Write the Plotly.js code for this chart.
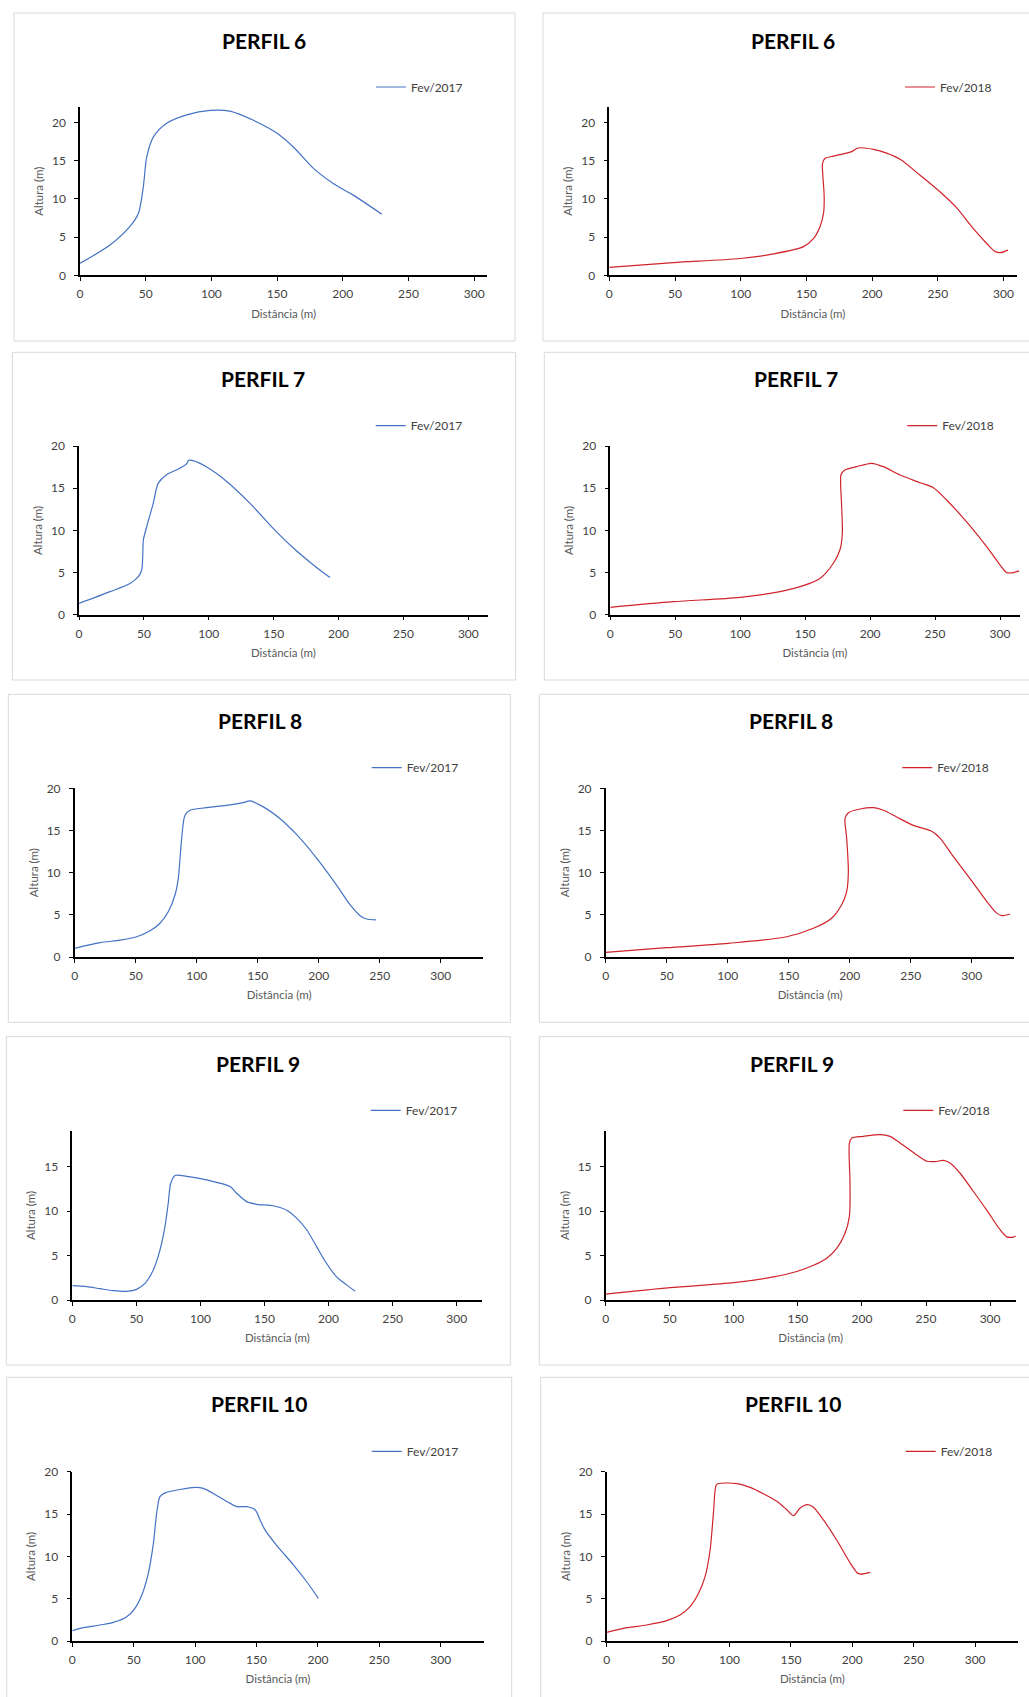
<!DOCTYPE html>
<html><head><meta charset="utf-8">
<script src="https://cdn.plot.ly/plotly-3.0.1.min.js"></script>
<style>html,body{margin:0;padding:0;background:#fff;}#chart{width:1029px;height:1697px;}</style>
</head><body><div id="chart"></div>
<script>
// ---- DATA ----
const titles = ["PERFIL 6","PERFIL 6","PERFIL 7","PERFIL 7","PERFIL 8","PERFIL 8","PERFIL 9","PERFIL 9","PERFIL 10","PERFIL 10"];
const seriesNames = ["Fev/2017","Fev/2018","Fev/2017","Fev/2018","Fev/2017","Fev/2018","Fev/2017","Fev/2018","Fev/2017","Fev/2018"];
const xAxisTitle = "Distância (m)";
const yAxisTitle = "Altura (m)";
const xMax = [310,310,315,315,335,335,320,320,335,335];
const yMax = [22,22,20,20,20,20,19,19,20,20];

const p6_2017_x = [0,22.8,38,44.4,48.2,50.8,55.8,66,81.2,99,114,132,150,162.4,177.7,193,208,229.7];
const p6_2017_y = [1.57,3.96,6.4,8.1,11.6,15.5,18.1,19.9,21,21.6,21.5,20.3,18.6,16.8,14,12,10.5,8.0];
const p6_2018_x = [0,48.7,99.5,124.9,147.7,155.3,160.4,163,163.5,162.4,162.2,164,170.6,184.5,188.3,190.9,201,211,221.3,236.5,251.8,264.5,277,287,293.7,297.5,303.4];
const p6_2018_y = [1.05,1.66,2.2,2.8,3.75,4.8,6.4,8.1,10.3,13.3,14.6,15.3,15.6,16.2,16.6,16.7,16.5,16.0,15.2,13.1,10.9,8.8,6.1,4.2,3.1,2.96,3.3];

const p7_2017_x = [0,23.9,39.3,45.7,48.3,49.1,49.6,52.1,57.2,61.1,67.5,77.8,83,84.5,88,98.4,113.8,131.8,149.8,165.2,180.6,193.4];
const p7_2017_y = [1.34,2.73,3.7,4.5,5.3,6.9,8.85,10.4,13.2,15.6,16.6,17.35,17.9,18.3,18.26,17.5,15.8,13.2,10.2,7.9,5.9,4.4];
const p7_2018_x = [0,48.5,99.8,130.6,148.6,161.4,171.7,176.8,178.6,178.1,177.3,177.6,180.6,189.6,201.2,210.2,223,238.4,248.7,258.9,274.3,289.7,300,305,310.2,314.6];
const p7_2018_y = [0.87,1.54,2.06,2.73,3.44,4.3,6.1,7.7,9.6,12.8,15.6,16.6,17.15,17.55,17.95,17.55,16.56,15.65,15.06,13.6,11.0,8.06,5.9,5.0,4.98,5.2];

const p8_2017_x = [0,20.8,37.2,50.8,61.7,69.9,76.8,82.2,84.9,87.7,90.4,94.5,108.2,130,138.3,143.7,154.6,168.3,182,198.4,214.8,225.7,233.9,239.3,247];
const p8_2017_y = [1.03,1.7,2.0,2.4,3.1,4.0,5.4,7.35,9.3,14.1,16.8,17.4,17.7,18.1,18.3,18.5,17.8,16.4,14.5,11.7,8.5,6.2,4.9,4.5,4.4];
const p8_2018_x = [0,50,100.5,148.4,170.2,185.2,193.4,197.5,198.9,197.5,196.2,198.9,208.5,219.4,227.6,238.5,252.2,259,267.2,274,285,298.6,312.3,320.5,324.6,331.4];
const p8_2018_y = [0.55,1.1,1.62,2.4,3.4,4.6,6.2,7.75,10.1,14.1,16.4,17.1,17.55,17.7,17.4,16.6,15.6,15.3,14.9,14.1,11.9,9.3,6.6,5.2,4.9,5.1];

const p9_2017_x = [0,11.2,21.6,32,42.4,50.2,56.7,63.2,68.4,72.3,74.9,76.8,80.2,89.3,104.9,123.1,128.3,136.1,143.9,156.9,167.3,175.1,182.9,190.7,198.5,206.3,214.1,220.7];
const p9_2017_y = [1.61,1.5,1.27,1.05,0.97,1.2,1.87,3.37,5.6,8.25,10.9,13.1,13.99,13.9,13.5,12.75,12,11.06,10.76,10.6,10.1,9.2,7.9,6.0,4.1,2.6,1.7,1.0];
const p9_2018_x = [0,50.2,100,131,149.1,162.1,172.5,180.3,186.8,190.2,190.7,190.2,192,201.1,214.1,221.9,232.3,242.8,250.6,257.1,263.6,268.8,276.6,287,297.4,307.8,313,316.9,320.3];
const p9_2018_y = [0.67,1.4,1.95,2.6,3.2,3.9,4.7,5.8,7.5,9.4,13.1,17.6,18.2,18.4,18.6,18.4,17.4,16.3,15.6,15.56,15.7,15.4,14.25,12.2,10.1,7.9,7.1,7.05,7.2];

const p10_2017_x = [0,9,22.5,33.4,44.3,51,56.5,61.9,66,68.7,71.4,75.5,87.7,99.9,106.7,117.6,128.5,133.9,142,148.8,152.9,157,166.4,180,190.9,200.4];
const p10_2017_y = [1.22,1.57,1.89,2.2,2.87,3.86,5.4,8.0,11.5,15.1,17.05,17.5,17.9,18.15,18.03,17.2,16.26,15.87,15.87,15.5,14.3,13.1,11.3,9.0,7.0,5.04];
const p10_2018_x = [0,16.3,32.6,48.9,59.7,67.9,74.7,80.1,84.2,86.9,89.1,91,105.9,116.8,127.6,138.5,146.7,152.1,157.5,163.5,168.3,176.5,187.4,198.3,203.7,206.4,214.6];
const p10_2018_y = [1.02,1.57,1.89,2.4,3.07,4.06,5.6,7.6,10.75,15.1,18.4,18.6,18.6,18.15,17.4,16.5,15.5,14.8,15.7,16.1,15.8,14.3,11.9,9.2,8.1,7.9,8.1];

const seriesX = [p6_2017_x,p6_2018_x,p7_2017_x,p7_2018_x,p8_2017_x,p8_2018_x,p9_2017_x,p9_2018_x,p10_2017_x,p10_2018_x];
const seriesY = [p6_2017_y,p6_2018_y,p7_2017_y,p7_2018_y,p8_2017_y,p8_2018_y,p9_2017_y,p9_2018_y,p10_2017_y,p10_2018_y];

// ---- LAYOUT GEOMETRY (pixels on the 1029x1697 page) ----
const W = 1029, H = 1697;
const geom = [
  {plot:[80,487.3,275.3,107.3],   box:[14,515,13,341],        title:[264,40],      leg:[376,87]},
  {plot:[609.3,1016.7,275.3,107.3],box:[543,1040,13,341],     title:[793.3,40],    leg:[905,87]},
  {plot:[79,487.8,614.7,446],     box:[12.3,515.7,352.3,680], title:[263.3,378],   leg:[375.7,425.7]},
  {plot:[610.3,1019.5,614.7,446], box:[544.3,1040,352.3,680], title:[796,378],     leg:[907.3,425.7]},
  {plot:[74.7,483.4,957,788.3],   box:[8.3,510.3,694.3,1022.3], title:[260,720],   leg:[371.7,767.7]},
  {plot:[605.7,1014.4,957,788.3], box:[539.3,1040,694.3,1022.3], title:[790.7,720], leg:[902.3,767.7]},
  {plot:[72.3,482.3,1300,1131],   box:[6.3,510.3,1036.7,1365], title:[258.3,1063.3], leg:[370.7,1110.3]},
  {plot:[605.7,1015.7,1300,1131], box:[539.3,1040,1036.7,1365], title:[791.7,1063.3], leg:[903.3,1110.3]},
  {plot:[72.3,483.7,1641,1471.7], box:[6.7,511.7,1377.3,1710], title:[259,1403.3], leg:[371.7,1451.3]},
  {plot:[606.7,1018.1,1641,1471.7], box:[540.7,1040,1377.3,1710], title:[793.3,1403.3], leg:[905.7,1451.3]}
];
const px = v => v / W;
const py = v => 1 - v / H;

const FONT = "Lato, 'Open Sans', sans-serif";
const colors = ["#4472C4","#D0232A"];

const traces = [];
const layout = {
  width: W, height: H,
  margin: {l:0, r:0, t:0, b:0},
  paper_bgcolor: "#ffffff", plot_bgcolor: "rgba(0,0,0,0)",
  font: {family: FONT, color: "#404040"},
  shapes: [], annotations: [],
  showlegend: true
};

for (let i = 0; i < 10; i++) {
  const g = geom[i];
  const k = i === 0 ? "" : String(i + 1);
  const legKey = "legend" + k;
  traces.push({
    type: "scatter", mode: "lines",
    x: seriesX[i], y: seriesY[i],
    name: seriesNames[i],
    xaxis: "x" + k, yaxis: "y" + k,
    legend: legKey,
    line: {color: colors[i % 2], width: 1.2, shape: "spline", smoothing: 0.8},
    hoverinfo: "x+y"
  });
  const axCommon = {
    showline: true, linecolor: "#000000", linewidth: 1.5,
    ticks: "outside", ticklen: 4, tickwidth: 1.3, tickcolor: "#000000",
    showgrid: false, zeroline: false,
    tickfont: {family: FONT, size: 12, color: "#3F3F3F"},
    fixedrange: true
  };
  layout["xaxis" + k] = Object.assign({}, axCommon, {
    domain: [px(g.plot[0]), px(g.plot[1])],
    anchor: "y" + k,
    range: [0, xMax[i]], tickmode: "linear", tick0: 0, dtick: 50,
    ticklabelstandoff: 3,
    title: {text: xAxisTitle, font: {family: FONT, size: 11.5, color: "#595959"}, standoff: 9}
  });
  layout["yaxis" + k] = Object.assign({}, axCommon, {
    domain: [py(g.plot[2]), py(g.plot[3])],
    anchor: "x" + k,
    range: [0, yMax[i]], tickmode: "linear", tick0: 0, dtick: 5,
    ticklabelstandoff: 6,
    title: {text: yAxisTitle, font: {family: FONT, size: 11.5, color: "#595959"}, standoff: 6}
  });
  layout[legKey] = {
    x: px(g.leg[0] - 5), y: py(g.leg[1]),
    xanchor: "left", yanchor: "middle",
    bgcolor: "rgba(0,0,0,0)", borderwidth: 0,
    font: {family: FONT, size: 12, color: "#404040"},
    itemclick: false, itemdoubleclick: false
  };
  layout.shapes.push({
    type: "rect", xref: "paper", yref: "paper",
    x0: px(g.box[0]), x1: px(g.box[1]), y0: py(g.box[3]), y1: py(g.box[2]),
    line: {color: "#D9D9D9", width: 1}, fillcolor: "rgba(0,0,0,0)", layer: "below"
  });
  layout.annotations.push({
    xref: "paper", yref: "paper", x: px(g.title[0]), y: py(g.title[1]),
    xanchor: "center", yanchor: "middle", showarrow: false,
    text: "<b>" + titles[i] + "</b>",
    font: {family: FONT, size: 21, color: "#000000"}
  });
}

Plotly.newPlot("chart", traces, layout, {displayModeBar: false, staticPlot: false});
</script>
</body></html>
